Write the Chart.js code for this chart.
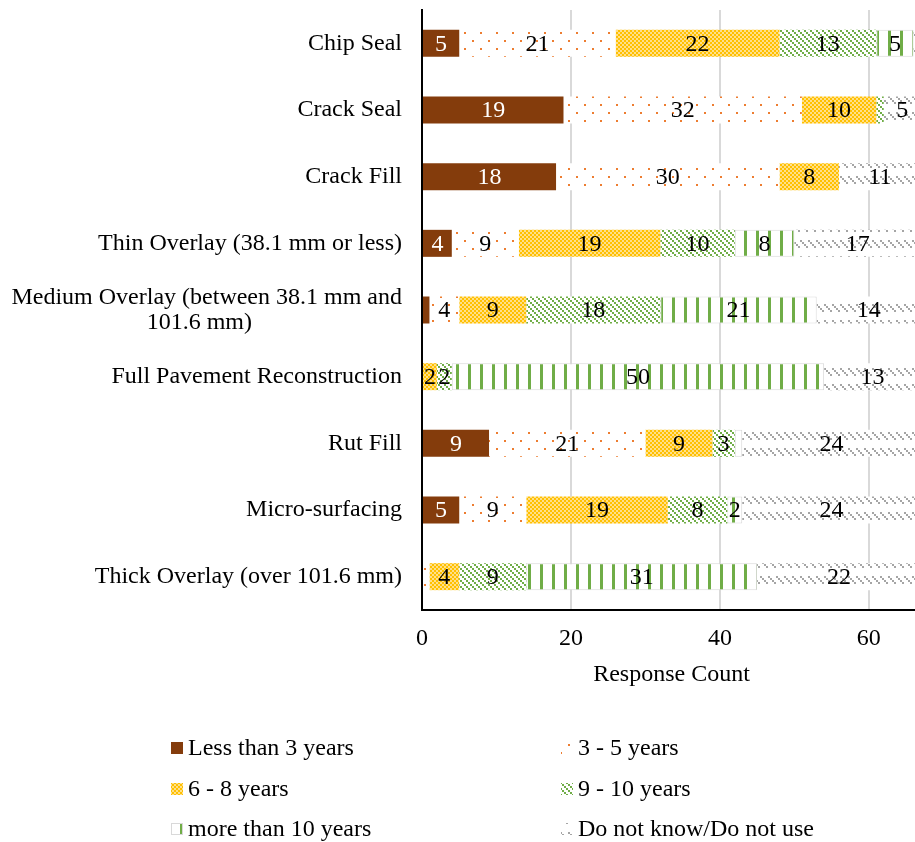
<!DOCTYPE html>
<html>
<head>
<meta charset="utf-8">
<script src="https://cdn.jsdelivr.net/npm/chart.js@4"></script>
<style>
  html, body { margin: 0; padding: 0; background: #fff; }
  #wrap { width: 915px; height: 842px; }
</style>
</head>
<body>
<div id="wrap"><canvas id="chart" width="915" height="842"></canvas></div>
<script>
// treatments (y axis)
const categories = [
    'Chip Seal',
    'Crack Seal',
    'Crack Fill',
    'Thin Overlay (38.1 mm or less)',
    ['Medium Overlay (between 38.1 mm and', '101.6 mm)                         '],
    'Full Pavement Reconstruction',
    'Rut Fill',
    'Micro-surfacing',
    'Thick Overlay (over 101.6 mm)'
];

const seriesNames = ['Less than 3 years', '3 - 5 years', '6 - 8 years', '9 - 10 years', 'more than 10 years', 'Do not know/Do not use'];

const lessThan3 = [5, 19, 18, 4, 1, 0, 9, 5, 0];
const years3to5 = [21, 32, 30, 9, 4, 0, 21, 9, 1];
const years6to8 = [22, 10, 8, 19, 9, 2, 9, 19, 4];
const years9to10 = [13, 1, 0, 10, 18, 2, 3, 8, 9];
const moreThan10 = [5, 0, 0, 8, 21, 50, 1, 2, 31];
const doNotKnow = [1, 5, 11, 17, 14, 13, 24, 24, 22];

const xTicks = [0, 20, 40, 60];

const FONT = "'Liberation Serif', 'Times New Roman', serif";

// little canvas tiles used as fill patterns
function tile(w, h, draw) {
    const c = document.createElement('canvas');
    c.width = w;
    c.height = h;
    const g = c.getContext('2d');
    g.fillStyle = '#fff';
    g.fillRect(0, 0, w, h);
    draw(g);
    return document.createElement('canvas').getContext('2d').createPattern(c, 'repeat');
}

const patDots = tile(16, 16, g => {
    g.fillStyle = '#ED7D31';
    g.fillRect(0, 0, 2, 2);
    g.fillRect(8, 8, 2, 2);
});

const patChecker = tile(4, 4, g => {
    g.fillStyle = '#FFC000';
    g.fillRect(0, 0, 2, 2);
    g.fillRect(2, 2, 2, 2);
    g.fillStyle = '#FFE08A';
    g.fillRect(2, 0, 2, 2);
    g.fillRect(0, 2, 2, 2);
});

const patDiag = tile(6, 6, g => {
    g.fillStyle = '#70AD47';
    g.fillRect(0, 0, 2, 2);
    g.fillRect(2, 2, 2, 2);
    g.fillRect(4, 4, 2, 2);
});

const patVert = tile(12, 4, g => {
    g.fillStyle = '#70AD47';
    g.fillRect(0, 0, 3, 4);
});

const patGray = tile(8, 16, g => {
    g.fillStyle = '#A5A5A5';
    g.fillRect(0, 0, 2, 2);
    g.fillRect(2, 2, 2, 2);
    g.fillRect(4, 4, 2, 2);
    g.fillRect(6, 6, 2, 2);
});

const fills = ['#843C0C', patDots, patChecker, patDiag, patVert, patGray];
const seriesData = [lessThan3, years3to5, years6to8, years9to10, moreThan10, doNotKnow];

// numbers inside the segments
const segmentLabels = {
    id: 'segmentLabels',
    afterDatasetsDraw(chart) {
        const ctx = chart.ctx;
        const area = chart.chartArea;
        ctx.save();
        ctx.beginPath();
        ctx.rect(area.left, area.top, area.right - area.left, area.bottom - area.top);
        ctx.clip();
        ctx.font = '24px ' + FONT;
        ctx.textAlign = 'center';
        ctx.textBaseline = 'middle';
        chart.data.datasets.forEach((ds, i) => {
            const meta = chart.getDatasetMeta(i);
            meta.data.forEach((bar, j) => {
                const v = ds.data[j];
                if (v < 2) return;
                ctx.fillStyle = i === 0 ? '#fff' : '#000';
                ctx.fillText(String(v), (bar.x + bar.base) / 2, bar.y + 1);
            });
        });
        ctx.restore();
    }
};

// axis title and two-column legend underneath
const bottomStuff = {
    id: 'bottomStuff',
    afterDraw(chart) {
        const ctx = chart.ctx;
        const area = chart.chartArea;
        ctx.save();
        ctx.font = '24px ' + FONT;
        ctx.fillStyle = '#000';
        ctx.textBaseline = 'middle';
        ctx.textAlign = 'center';
        ctx.fillText('Response Count', (area.left + area.right) / 2 + 3, 675);

        ctx.textAlign = 'left';
        const cols = [171, 561];
        const rows = [748, 789, 829];
        seriesNames.forEach((name, i) => {
            const x = cols[i % 2];
            const y = rows[Math.floor(i / 2)];
            ctx.fillStyle = fills[i];
            ctx.fillRect(x, y - 6, 12, 12);
            if (i === 4) {
                ctx.strokeStyle = '#d9d9d9';
                ctx.lineWidth = 1;
                ctx.strokeRect(x + 0.5, y - 5.5, 11, 11);
            }
            ctx.fillStyle = '#000';
            ctx.fillText(name, x + 17, y + 1);
        });
        ctx.restore();
    }
};

const datasets = seriesData.map((arr, i) => ({
    label: seriesNames[i],
    data: arr,
    backgroundColor: fills[i],
    borderColor: i === 4 ? '#d9d9d9' : 'rgba(0,0,0,0)',
    borderWidth: i === 4 ? 1 : 0,
    borderSkipped: false,
    barPercentage: 0.405,
    categoryPercentage: 1
}));

new Chart(document.getElementById('chart'), {
    type: 'bar',
    data: { labels: categories, datasets: datasets },
    options: {
        indexAxis: 'y',
        responsive: false,
        animation: false,
        layout: { padding: { top: 10, left: 0, right: 0, bottom: 0 } },
        plugins: {
            legend: { display: false },
            tooltip: { enabled: false }
        },
        scales: {
            x: {
                stacked: true,
                min: 0,
                max: 66.2,
                afterFit(scale) { scale.height = 232; },
                afterBuildTicks(scale) { scale.ticks = xTicks.map(v => ({ value: v })); },
                grid: { color: '#d9d9d9', lineWidth: 2, drawTicks: false },
                border: { color: '#000', width: 2 },
                ticks: {
                    font: { family: FONT, size: 24 },
                    color: '#000',
                    padding: 14
                }
            },
            y: {
                stacked: true,
                afterFit(scale) {
                    scale.width = 422;
                    scale.paddingTop = 0;
                    scale.paddingBottom = 0;
                },
                grid: { display: false, drawTicks: false },
                border: { color: '#000', width: 2 },
                ticks: {
                    font: { family: FONT, size: 24, lineHeight: 1.05 },
                    color: '#000',
                    padding: 20
                }
            }
        }
    },
    plugins: [segmentLabels, bottomStuff]
});
</script>
</body>
</html>
